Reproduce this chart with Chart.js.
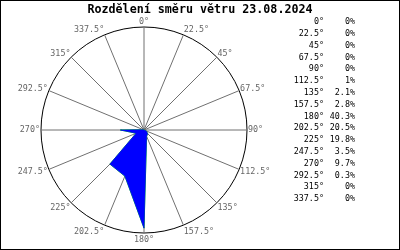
<!DOCTYPE html>
<html>
<head>
<meta charset="utf-8">
<script src="https://cdn.jsdelivr.net/npm/chart.js@4/dist/chart.umd.min.js"></script>
<style>
  html, body { margin: 0; padding: 0; background: #fff; }
</style>
</head>
<body>
<canvas id="rose" width="400" height="250"></canvas>
<script>
// wind direction share for the day, percent per 22.5 degree sector
const directions = ['0°', '22.5°', '45°', '67.5°', '90°', '112.5°', '135°', '157.5°',
                    '180°', '202.5°', '225°', '247.5°', '270°', '292.5°', '315°', '337.5°'];
const shares = [0, 0, 0, 0, 0, 1, 2.1, 2.8, 40.3, 20.5, 19.8, 3.5, 9.7, 0.3, 0, 0];
const titleText = 'Rozdělení směru větru 23.08.2024';

const mono = '"DejaVu Sans Mono", "Liberation Mono", monospace';

const roseDecor = {
    id: 'roseDecor',
    afterDraw(chart) {
        const ctx = chart.ctx;
        const scale = chart.scales.r;
        ctx.save();

        // title
        ctx.fillStyle = '#000';
        ctx.font = 'bold 11.7px ' + mono;
        ctx.textAlign = 'center';
        ctx.textBaseline = 'alphabetic';
        ctx.fillText(titleText, 200, 13);

        // direction labels round the circle
        ctx.font = '8.4px ' + mono;
        ctx.fillStyle = '#666';
        ctx.textBaseline = 'middle';
        directions.forEach((lab, i) => {
            const deg = i * 360 / directions.length;
            const p = scale.getPointPosition(i, scale.drawingArea + 1);
            let align = 'center';
            if (deg > 0 && deg < 180) align = 'left';
            else if (deg > 180) align = 'right';
            ctx.textAlign = align;
            const c = Math.cos(deg * Math.PI / 180);
            const shift = c > 0 ? c * 4 : c * 6;
            ctx.fillText(lab, p.x, p.y - shift);
        });

        // table on the right
        ctx.fillStyle = '#000';
        ctx.textAlign = 'right';
        directions.forEach((lab, i) => {
            const y = 22 + i * 11.8;
            ctx.fillText(lab, 324, y);
            ctx.fillText(shares[i] + '%', 355, y);
        });

        // frame
        ctx.strokeStyle = '#000';
        ctx.lineWidth = 1;
        ctx.strokeRect(0.5, 0.5, 399, 249);
        ctx.restore();
    }
};

new Chart(document.getElementById('rose'), {
    type: 'radar',
    data: {
        labels: directions,
        datasets: [{
            data: shares,
            fill: true,
            backgroundColor: '#0000ff',
            borderColor: '#0000ff',
            borderWidth: 0.6,
            pointRadius: 0,
            order: 0
        }, {
            data: shares,
            fill: false,
            borderColor: '#00e000',
            borderWidth: 1,
            pointRadius: 0,
            order: 1
        }]
    },
    options: {
        responsive: false,
        animation: false,
        layout: { padding: { left: 41, right: 152, top: 27, bottom: 16 } },
        plugins: {
            legend: { display: false },
            title: { display: false },
            tooltip: { enabled: false }
        },
        scales: {
            r: {
                min: 0,
                max: 42.3,
                ticks: { display: false, stepSize: 42.3 },
                grid: { circular: true, color: '#000', lineWidth: 1 },
                angleLines: { color: '#707070', lineWidth: 1 },
                pointLabels: { display: false }
            }
        }
    },
    plugins: [roseDecor]
});
</script>
</body>
</html>
